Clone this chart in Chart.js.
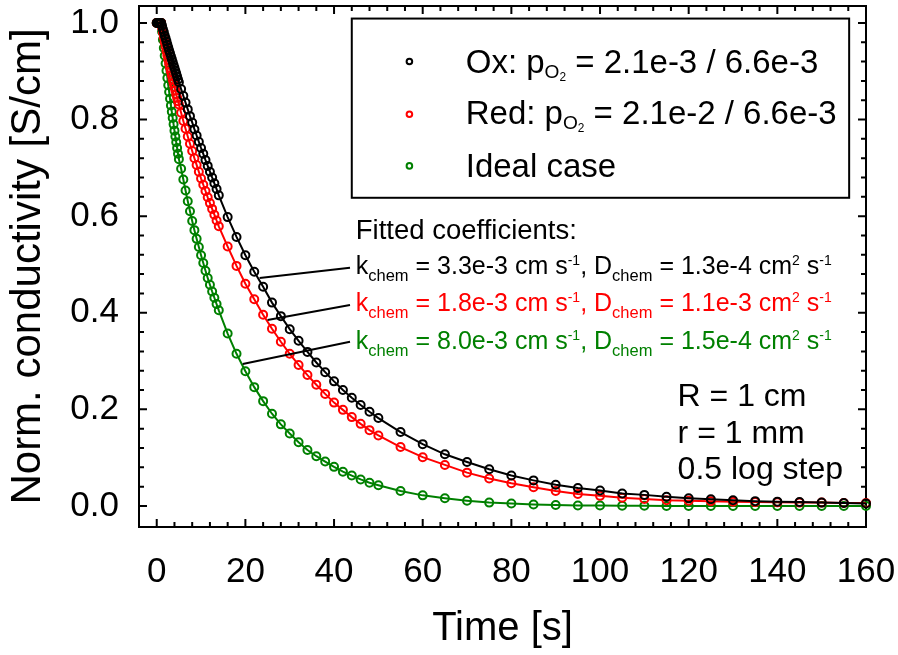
<!DOCTYPE html>
<html>
<head>
<meta charset="utf-8">
<script src="https://cdn.jsdelivr.net/npm/chart.js@4.4.0/dist/chart.umd.min.js"></script>
<style>
html,body{margin:0;padding:0;background:#fff;}
</style>
</head>
<body>
<canvas id="chart" width="898" height="655"></canvas>
<script>
var FONT = '"Liberation Sans", Arial, sans-serif';

// time [s] - dense at the start, then 0.5 s, 2 s and 5 s steps
var timeS = [0,0.2,0.4,0.6,0.8,1,1.2,1.4,1.6,1.8,2,2.2,2.4,2.6,2.8,3,3.2,3.4,3.6,3.8,4,4.2,4.4,4.6,4.8,5,
	5.5,6,6.5,7,7.5,8,8.5,9,9.5,10,10.5,11,11.5,12,12.5,13,13.5,14,
	16,18,20,22,24,26,28,30,32,34,36,38,40,42,44,46,48,50,
	55,60,65,70,75,80,85,90,95,100,105,110,115,120,125,130,135,140,145,150,155,160];

// Ox: pO2 = 2.1e-3 / 6.6e-3
var oxVals = [1,1,1,1,1,1,0.994,0.987,0.981,0.974,0.968,0.962,0.955,0.949,0.943,0.937,0.931,0.925,0.919,0.913,0.907,0.901,0.895,0.889,0.883,0.877,
	0.863,0.849,0.835,0.821,0.807,0.794,0.780,0.767,0.754,0.741,0.729,0.716,0.704,0.692,0.680,0.668,0.656,0.643,
	0.598,0.557,0.519,0.485,0.454,0.421,0.393,0.366,0.342,0.319,0.297,0.277,0.258,0.240,0.224,0.209,0.195,0.182,
	0.153,0.128,0.107,0.091,0.076,0.063,0.053,0.044,0.037,0.032,0.026,0.023,0.019,0.016,0.014,0.012,0.010,0.009,0.008,0.007,0.006,0.005];

// Red: pO2 = 2.1e-2 / 6.6e-3
var redVals = [1,1,1,1,1,1,0.990,0.980,0.970,0.960,0.951,0.942,0.933,0.924,0.915,0.907,0.899,0.891,0.883,0.875,0.867,0.860,0.852,0.845,0.838,0.831,
	0.814,0.797,0.781,0.765,0.750,0.735,0.720,0.706,0.692,0.678,0.665,0.652,0.639,0.627,0.615,0.603,0.591,0.579,
	0.537,0.497,0.460,0.428,0.396,0.367,0.340,0.315,0.292,0.271,0.251,0.232,0.214,0.199,0.184,0.170,0.157,0.146,
	0.122,0.101,0.085,0.069,0.057,0.047,0.039,0.031,0.025,0.021,0.017,0.0145,0.012,0.011,0.010,0.009,0.008,0.0075,0.007,0.007,0.006,0.006];

// Ideal case
var idealVals = [1,1,1,1,1,1,0.982,0.965,0.948,0.932,0.916,0.901,0.886,0.871,0.857,0.843,0.829,0.816,0.803,0.790,0.777,0.765,0.753,0.741,0.729,0.718,
	0.698,0.676,0.653,0.631,0.610,0.590,0.571,0.553,0.536,0.519,0.503,0.487,0.472,0.458,0.444,0.431,0.418,0.405,
	0.357,0.315,0.279,0.246,0.217,0.191,0.169,0.150,0.132,0.116,0.103,0.092,0.081,0.071,0.063,0.055,0.048,0.043,
	0.031,0.022,0.016,0.011,0.007,0.005,0.003,0.002,0.001,0.001,0.0005,0.0005,0,0,0,0,0,0,0,0,0,0];

var xTicks = [0,20,40,60,80,100,120,140,160];
var yTicks = [0,0.2,0.4,0.6,0.8,1.0];
var seriesColors = ['#000000','#ff0000','#008000'];

// legend lines, [text, level] level 0 normal, -1 sub, -2 sub of sub
var legendRows = [
	[['Ox: p',0],['O',-1],['2',-2],[' = 2.1e-3 / 6.6e-3',0]],
	[['Red: p',0],['O',-1],['2',-2],[' = 2.1e-2 / 6.6e-3',0]],
	[['Ideal case',0]]
];
var fitTitle = 'Fitted coefficients:';
var fitRows = [
	[['k',0],['chem',-1],[' = 3.3e-3 cm s',0],['-1',1],[', D',0],['chem',-1],[' = 1.3e-4 cm',0],['2',1],[' s',0],['-1',1]],
	[['k',0],['chem',-1],[' = 1.8e-3 cm s',0],['-1',1],[', D',0],['chem',-1],[' = 1.1e-3 cm',0],['2',1],[' s',0],['-1',1]],
	[['k',0],['chem',-1],[' = 8.0e-3 cm s',0],['-1',1],[', D',0],['chem',-1],[' = 1.5e-4 cm',0],['2',1],[' s',0],['-1',1]]
];
var simNotes = ['R = 1 cm','r = 1 mm','0.5 log step'];

// minor tick lists (every 4 s, every 0.04)
var minorX = [], minorY = [];
for (var i = 0; i <= 40; i++) minorX.push({v: i * 4, major: i % 5 == 0});
for (var j = 0; j <= 25; j++) minorY.push({v: j * 0.04, major: j % 5 == 0});

function makeSet(label, vals, color) {
	return {
		label: label,
		data: timeS.map(function(t, k) { return {x: t, y: vals[k]}; }),
		borderColor: color,
		backgroundColor: color,
		borderWidth: 2,
		pointRadius: 4,
		pointBorderWidth: 2,
		pointBackgroundColor: 'rgba(0,0,0,0)',
		pointBorderColor: color,
		tension: 0,
		clip: 10
	};
}

function drawRich(c, x, y, runs, size, color, subScale, subDy, subSubScale, subSubDy, supScale, supDy) {
	c.save();
	c.fillStyle = color;
	c.textAlign = 'left';
	c.textBaseline = 'alphabetic';
	runs.forEach(function(r) {
		var s = size, dy = 0;
		if (r[1] === -1) { s = size * subScale; dy = size * subDy; }
		else if (r[1] === -2) { s = size * subSubScale; dy = size * subSubDy; }
		else if (r[1] === 1) { s = size * supScale; dy = -size * supDy; }
		c.font = s + 'px ' + FONT;
		c.fillText(r[0], x, y + dy);
		x += c.measureText(r[0]).width;
	});
	c.restore();
}

//frame with inward ticks -start
var framePlugin = {
	id: 'frame',
	beforeDatasetsDraw: function(chart) {
		var c = chart.ctx, a = chart.chartArea;
		var sx = chart.scales.x, sy = chart.scales.y;
		c.save();
		c.strokeStyle = '#000';
		c.lineWidth = 2;
		c.beginPath();
		minorX.forEach(function(m) {
			var p = sx.getPixelForValue(m.v);
			var len = m.major ? 8 : 5;
			c.moveTo(p, a.bottom); c.lineTo(p, a.bottom - len);
			c.moveTo(p, a.top); c.lineTo(p, a.top + len);
		});
		minorY.forEach(function(m) {
			var p = sy.getPixelForValue(m.v);
			var len = m.major ? 8 : 5;
			c.moveTo(a.left, p); c.lineTo(a.left + len, p);
			c.moveTo(a.right, p); c.lineTo(a.right - len, p);
		});
		c.stroke();
		c.strokeRect(a.left, a.top, a.right - a.left, a.bottom - a.top);
		c.restore();
	}
};
//frame with inward ticks -end

//legend and notes -start
var notePlugin = {
	id: 'notes',
	afterDraw: function(chart) {
		var c = chart.ctx;
		var sx = chart.scales.x, sy = chart.scales.y;
		function X(t) { return sx.getPixelForValue(t); }
		function Y(v) { return sy.getPixelForValue(v); }

		// legend box
		c.save();
		c.lineWidth = 2;
		c.strokeStyle = '#000';
		c.strokeRect(X(44.0), Y(1.009), X(156.2) - X(44.0), Y(0.638) - Y(1.009));
		var markY = [0.920, 0.811, 0.704];
		var baseY = [0.897, 0.790, 0.682];
		legendRows.forEach(function(row, k) {
			c.beginPath();
			c.lineWidth = 2;
			c.strokeStyle = seriesColors[k];
			c.arc(X(57.0), Y(markY[k]), 2.8, 0, Math.PI * 2);
			c.stroke();
			drawRich(c, X(69.7), Y(baseY[k]), row, 33, '#000', 0.58, 0.15, 0.36, 0.24, 0.5, 0.35);
		});

		// fitted coefficients
		c.font = '27.5px ' + FONT;
		c.fillStyle = '#000';
		c.textBaseline = 'alphabetic';
		c.fillText(fitTitle, X(44.9), Y(0.553));
		var fitY = [0.481, 0.403, 0.324];
		fitRows.forEach(function(row, k) {
			drawRich(c, X(44.9), Y(fitY[k]), row, 25, seriesColors[k], 0.66, 0.28, 0, 0, 0.56, 0.36);
		});

		// leader lines from the curves to the text
		var leaders = [[23.2, 0.472, 43.6, 0.493], [25.0, 0.385, 43.6, 0.416], [19.4, 0.294, 43.6, 0.340]];
		c.strokeStyle = '#000';
		c.lineWidth = 2;
		c.beginPath();
		leaders.forEach(function(l) {
			c.moveTo(X(l[0]), Y(l[1]));
			c.lineTo(X(l[2]), Y(l[3]));
		});
		c.stroke();

		// simulation notes
		c.font = '32px ' + FONT;
		var noteY = [0.207, 0.131, 0.055];
		simNotes.forEach(function(s, k) {
			c.fillText(s, X(117.5), Y(noteY[k]));
		});
		c.restore();
	}
};
//legend and notes -end

var ctx = document.getElementById('chart').getContext('2d');
var chart = new Chart(ctx, {
	type: 'line',
	data: {
		datasets: [
			makeSet('Ox', oxVals, seriesColors[0]),
			makeSet('Red', redVals, seriesColors[1]),
			makeSet('Ideal case', idealVals, seriesColors[2])
		]
	},
	options: {
		responsive: false,
		devicePixelRatio: 1,
		animation: false,
		layout: { padding: { top: 6, right: 32, left: 0, bottom: 0 } },
		plugins: { legend: { display: false }, tooltip: { enabled: false } },
		scales: {
			x: {
				type: 'linear',
				min: -4,
				max: 160,
				afterBuildTicks: function(s) { s.ticks = xTicks.map(function(v) { return {value: v}; }); },
				afterFit: function(s) { s.height = 128; s.paddingLeft = 0; s.paddingRight = 0; },
				grid: { display: false, drawTicks: false },
				border: { display: false },
				ticks: {
					font: { family: FONT, size: 35 },
					color: '#000',
					padding: 24,
					maxRotation: 0,
					autoSkip: false,
					callback: function(v) { return String(v); }
				},
				title: { display: true, text: 'Time [s]', color: '#000', font: { family: FONT, size: 40 }, padding: { top: 0, bottom: 2 } }
			},
			y: {
				type: 'linear',
				min: -0.0435,
				max: 1.035,
				afterBuildTicks: function(s) { s.ticks = yTicks.map(function(v) { return {value: v}; }); },
				afterFit: function(s) { s.width = 139; s.paddingTop = 0; s.paddingBottom = 0; },
				grid: { display: false, drawTicks: false },
				border: { display: false },
				ticks: {
					font: { family: FONT, size: 35 },
					color: '#000',
					padding: 20,
					callback: function(v) { return v.toFixed(1); }
				},
				title: { display: true, text: 'Norm. conductivity [S/cm]', color: '#000', font: { family: FONT, size: 42 }, padding: { top: 3, bottom: 0 } }
			}
		}
	},
	plugins: [framePlugin, notePlugin]
});
</script>
</body>
</html>
